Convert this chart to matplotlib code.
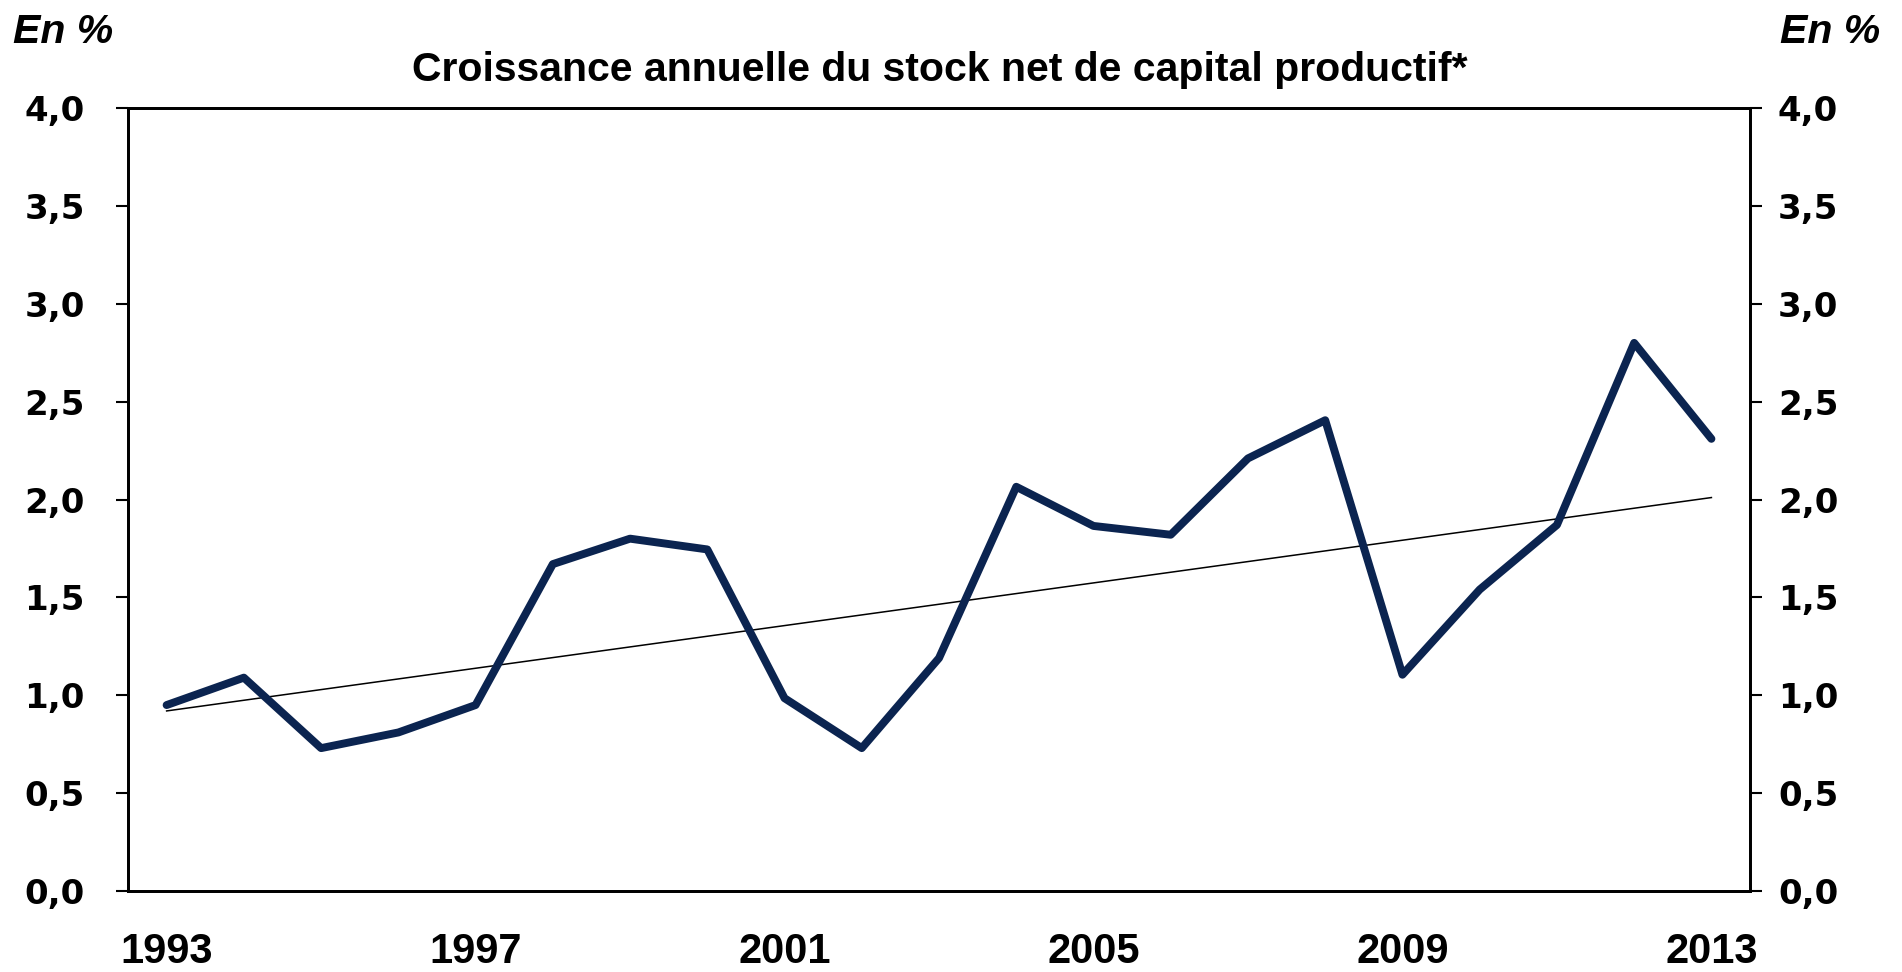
"""Croissance annuelle du stock net de capital productif (1993-2013)"""
import matplotlib
matplotlib.use('Agg')
import matplotlib.pyplot as plt

# données (en %)
years = list(range(1993, 2014))
growth = [0.95, 1.09, 0.73, 0.81, 0.95, 1.67, 1.80, 1.745, 0.985, 0.73, 1.19,
          2.065, 1.865, 1.82, 2.21, 2.405, 1.105, 1.54, 1.87, 2.80, 2.31]

# tendance linéaire
trend_years = [1993, 2013]
trend_values = [0.92, 2.01]

x_ticks = [1993, 1997, 2001, 2005, 2009, 2013]
y_ticks = [0.0, 0.5, 1.0, 1.5, 2.0, 2.5, 3.0, 3.5, 4.0]
y_labels = ['0,0', '0,5', '1,0', '1,5', '2,0', '2,5', '3,0', '3,5', '4,0']

title = 'Croissance annuelle du stock net de capital productif*'
unit = 'En %'

NAVY = '#0b2450'

fig = plt.figure(figsize=(19.02, 9.72), dpi=100)
ax = fig.add_axes([0.0673, 0.0833, 0.8528, 0.8056])

ax.plot(years, growth, color=NAVY, linewidth=5.7, solid_capstyle='round', zorder=3)
ax.plot(trend_years, trend_values, color='black', linewidth=1.1, zorder=2)

ax.set_xlim(1992.5, 2013.5)
ax.set_ylim(0, 4)

for sp in ax.spines.values():
    sp.set_linewidth(2)
    sp.set_color('black')

ax.set_xticks(x_ticks)
ax.set_xticklabels([str(y) for y in x_ticks], family='Liberation Sans',
                   fontweight='bold', fontsize=30)
ax.tick_params(axis='x', length=0, pad=29.5)

ax.set_yticks(y_ticks)
ax.set_yticklabels(y_labels, family='DejaVu Sans', fontweight='bold', fontsize=24.5)
ax.tick_params(axis='y', direction='out', length=8.6, width=1.5, pad=22.5)

# axe de droite (mêmes graduations)
ax2 = ax.twinx()
ax2.set_ylim(0, 4)
ax2.set_yticks(y_ticks)
ax2.set_yticklabels(y_labels, family='DejaVu Sans', fontweight='bold', fontsize=24.5)
ax2.tick_params(axis='y', direction='out', length=8.6, width=1.5, pad=11.5)
for sp in ax2.spines.values():
    sp.set_linewidth(2)

fig.text(0.494, 0.9167, title, ha='center', va='baseline',
         family='Liberation Sans', fontweight='bold', fontsize=29.5)
fig.text(0.0068, 0.956, unit, ha='left', va='baseline',
         family='Liberation Sans', fontweight='bold', style='italic', fontsize=29.5)
fig.text(0.9884, 0.956, unit, ha='right', va='baseline',
         family='Liberation Sans', fontweight='bold', style='italic', fontsize=29.5)

fig.savefig('out.png', dpi=100)
